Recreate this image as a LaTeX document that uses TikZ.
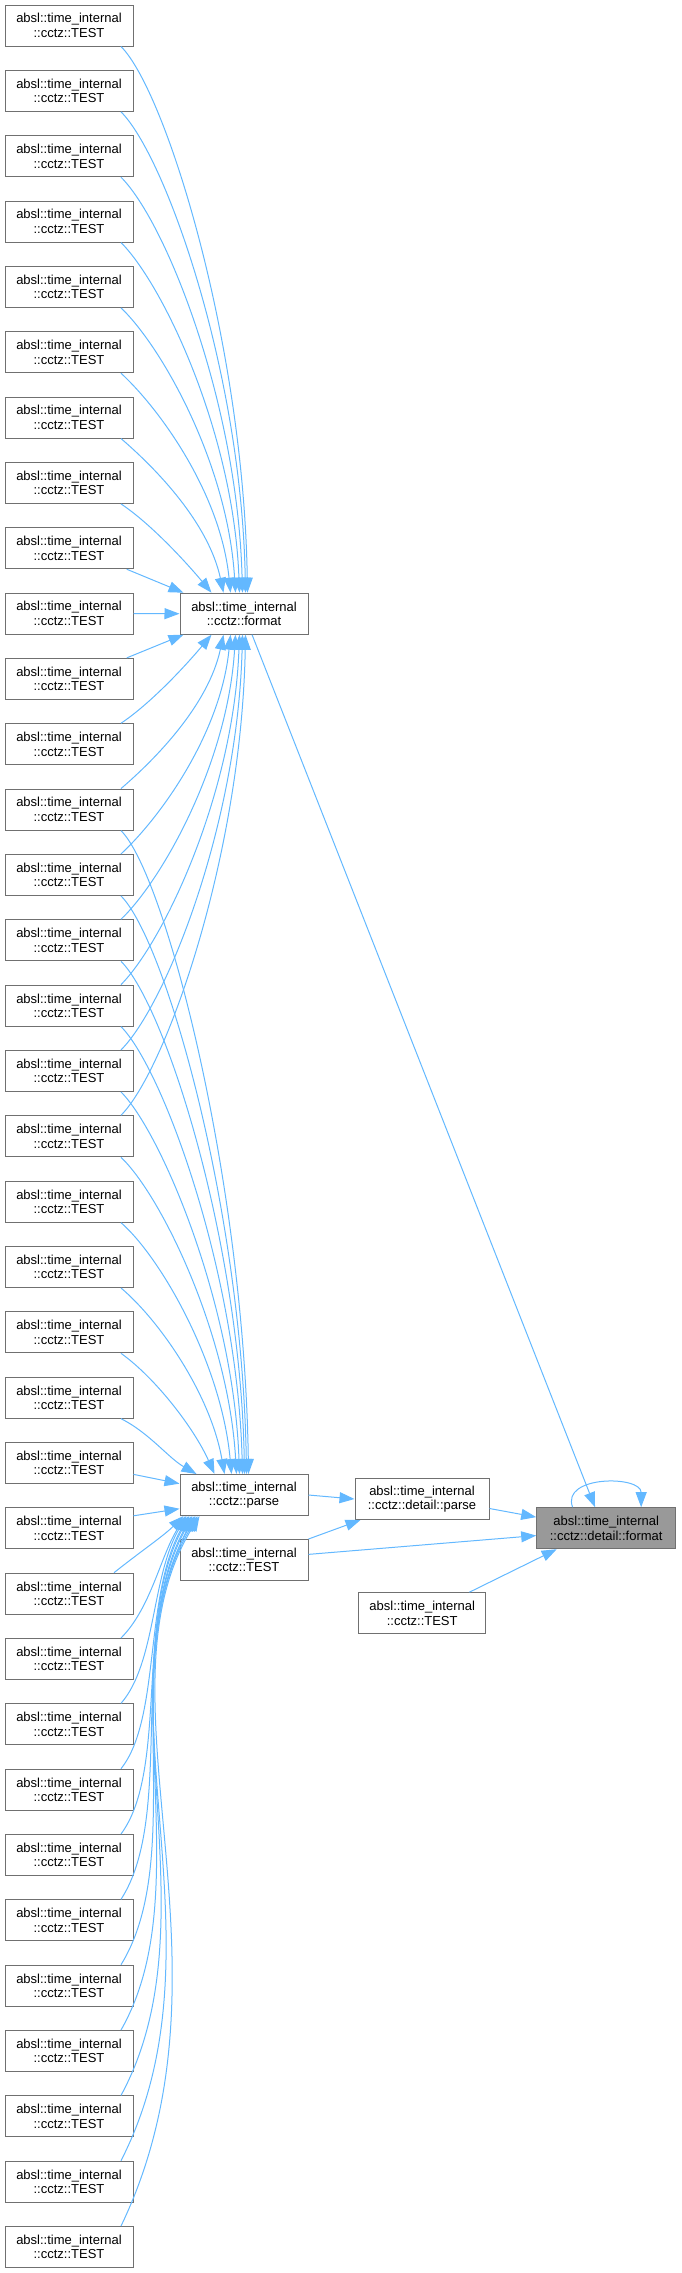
\documentclass[tikz,border=0pt]{standalone}
\usepackage{fontspec}
\setmainfont{Liberation Sans}
\usetikzlibrary{arrows.meta,calc}
\definecolor{edgeblue}{HTML}{63B8FF}
\definecolor{boxgray}{HTML}{707070}
\definecolor{hlgray}{HTML}{999999}
\tikzset{
  fn/.style={draw=boxgray, line width=1pt, fill=white, minimum width=128pt,
    minimum height=41pt, inner sep=0pt, align=center,
    font=\fontsize{13}{14.5}\selectfont},
  call/.style={draw=edgeblue, line width=1pt, -{Triangle[length=15pt,width=11pt]}},
}
\newcommand{\fname}[1]{absl::time\_internal\\::cctz::#1}

\begin{document}
\begin{tikzpicture}[x=1pt,y=-1pt]
 \useasboundingbox (0,0) rectangle (681,2273);
 % left column of callers
 \foreach \i in {0,...,34}
   \node[fn] (t\i) at (69,{25.5+65.34*\i}) {\fname{TEST}};

 % middle and right
 \node[fn] (fmt) at (244,613.7) {\fname{format}};
 \node[fn] (prs) at (244,1495) {\fname{parse}};
 \node[fn] (tm) at (244,1560) {\fname{TEST}};
 \node[fn, minimum width=134pt] (dp) at (422,1499) {\fname{detail::parse}};
 \node[fn, minimum width=139pt, fill=hlgray] (df) at (606.2,1528.2) {\fname{detail::format}};
 \node[fn, minimum width=127pt] (tb) at (422.2,1613.2) {\fname{TEST}};

 % calls of format, from above
 \foreach \i/\xe/\ax/\ay/\bx/\by in {0/248/45/45/-4/-250, 1/246/45/45/-4/-220,
     2/243/45/45/-5/-190, 3/240/42/42/-6/-160, 4/236/40/38/-8/-130,
     5/231/38/35/-10/-100, 6/224/35/30/-15/-70, 7/212/30/20/-25/-30}
   \draw[call] (t\i.-22) .. controls +(\ax,\ay) and +(\bx,\by) .. ($(fmt.north west)+(\xe-180,0)$);
 \draw[call] (t8.-20) -- ($(fmt.north west)+(4,0)$);
 \draw[call] (t9.east) -- (fmt.west);
 % calls of format, from below
 \draw[call] (t10.20) -- ($(fmt.south west)+(4,0)$);
 \foreach \i/\xe/\ax/\ay/\bx/\by in {11/212/30/-20/-25/30, 12/224/35/-30/-15/70,
     13/231/38/-35/-10/100, 14/236/40/-38/-8/130, 15/240/42/-42/-6/160,
     16/243/45/-45/-5/190, 17/246/45/-45/-4/220}
   \draw[call] (t\i.22) .. controls +(\ax,\ay) and +(\bx,\by) .. ($(fmt.south west)+(\xe-180,0)$);

 % calls of parse, from above
 \foreach \i/\xe/\ax/\ay/\bx/\by in {12/249/45/45/-4/-290, 13/247/45/45/-4/-260,
     14/245/45/45/-4/-230, 15/243/42/42/-5/-200, 16/240/40/40/-6/-170,
     17/237/40/38/-8/-140, 18/232/40/35/-10/-110, 19/225/38/32/-14/-80,
     20/215/35/25/-20/-45, 21/197/28/14/-28/-16}
   \draw[call] (t\i.-22) .. controls +(\ax,\ay) and +(\bx,\by) .. ($(prs.north west)+(\xe-180,0)$);
 \draw[call] (t22.-10) -- (prs.170);
 \draw[call] (t23.11) -- (prs.192);
 % calls of parse, from below
 \draw[call] (t24.25) .. controls +(25,-20) and +(-20,20) .. ($(prs.south west)+(4,0)$);
 \foreach \i/\xe/\ax/\ay/\bx/\by in {25/186/30/-30/-25/40, 26/187/35/-40/-35/60,
     27/189/40/-50/-45/80, 28/190/48/-65/-55/100, 29/192/55/-85/-65/120,
     30/193/68/-110/-75/140, 31/195/80/-140/-85/160, 32/196/95/-175/-95/170,
     33/198/110/-215/-105/180, 34/200/125/-260/-110/180}
   \draw[call] (t\i.22) .. controls +(\ax,\ay) and +(\bx,\by) .. ($(prs.south west)+(\xe-180,0)$);

 % into the detail functions
 \draw[call] (prs.east) -- (dp.west);
 \draw[call] (tm.north east) -- ($(dp.south west)+(6,0)$);
 \draw[call] (tm.5) -- (df.186);
 \draw[call] (dp.-8) -- (df.171);
 \draw[call] (fmt.-69) -- (df.118);
 \draw[call] (tb.24) -- (df.203);
 \draw[call] (df.148) .. controls +(-12,-32) and +(0,-32) .. (df.31);
\end{tikzpicture}
\end{document}
